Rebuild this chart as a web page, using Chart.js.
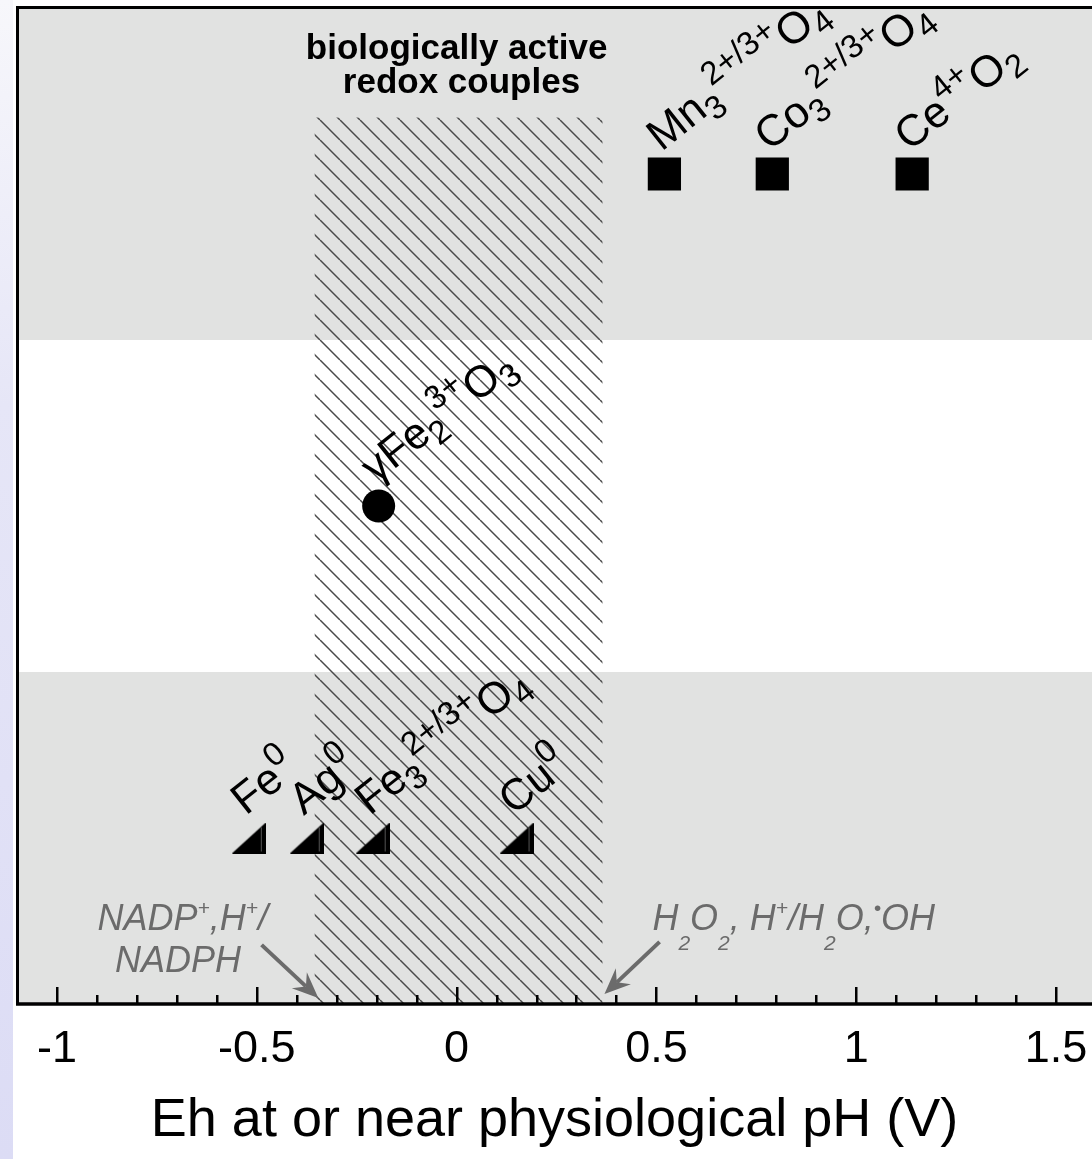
<!DOCTYPE html>
<html>
<head>
<meta charset="utf-8">
<title>Eh at or near physiological pH</title>
<script src="https://cdn.jsdelivr.net/npm/chart.js@4.4.1/dist/chart.umd.min.js"></script>
<style>
	html, body { margin: 0; padding: 0; background: #fff; }
	body { width: 1092px; height: 1159px; position: relative; overflow: hidden; }
	.side-strip {
		position: absolute; left: 0; top: 0; width: 13px; height: 100%;
		background: linear-gradient(to bottom, #f7f7fb 0%, #e6e6f7 35%, #dcdcf5 100%);
	}
	#redoxChart { position: absolute; left: 0; top: 0; }
</style>
</head>
<body>
<div class="side-strip"></div>
<canvas id="redoxChart" width="1092" height="1159"></canvas>
<script>
// ===== DATA =====
const tickValues = [-1, -0.5, 0, 0.5, 1, 1.5];
const rowLevels = [2.5, 1.5, 0.5];          // oxides (top), maghemite (middle), metals (bottom)
const grayBands = [[0, 1], [2, 3]];

const oxideLabels = ['Mn_{3}^{2+/3+}O_{4}', 'Co_{3}^{2+/3+}O_{4}', 'Ce^{4+}O_{2}'];
const oxideEh = [0.52, 0.79, 1.14];

const maghemiteLabels = ['γFe_{2}^{3+}O_{3}'];
const maghemiteEh = [-0.195];

const metalLabels = ['Fe^{0}', 'Ag^{0}', 'Fe_{3}^{2+/3+}O_{4}', 'Cu^{0}'];
const metalEh = [-0.52, -0.375, -0.21, 0.15];

const bioWindow = [-0.355, 0.365];           // NADP+,H+/NADPH ... H2O2,H+/H2O,•OH
const bioWindowTop = 2.67;

// ===== STYLE =====
const FAMILY = '"Liberation Sans", Arial, Helvetica, sans-serif';
const LABEL_ANGLE = -38.5 * Math.PI / 180;
const LABEL_DX = -3;
const LABEL_DY = -22;
const markerFont = { size: 44, small: 33, subDy: 10, supDy: -20, supShift: 1, color: '#000', style: 'normal', weight: 'normal' };
const noteFont = { size: 36, small: 21, subDy: 20, supDy: -15, supShift: 1, color: '#6b6b6b', style: 'italic', weight: 'normal' };
const GRAY = '#6b6b6b';

// ===== RICH TEXT (sub/superscripts) =====
function parseRich(str) {
	const segs = [];
	let buf = '';
	let i = 0;
	while (i < str.length) {
		const c = str[i];
		if ((c === '_' || c === '^') && str[i + 1] === '{') {
			if (buf) { segs.push({ t: buf, k: 'n' }); buf = ''; }
			const end = str.indexOf('}', i);
			segs.push({ t: str.slice(i + 2, end), k: c === '_' ? 'sub' : 'sup' });
			i = end + 1;
		} else {
			buf += c;
			i++;
		}
	}
	if (buf) segs.push({ t: buf, k: 'n' });
	return segs;
}

function fontStr(f, size) {
	return `${f.style} ${f.weight} ${size}px ${FAMILY}`;
}

// walks the segments; draws them if draw is true, returns total width
function layoutRich(ctx, segs, f, draw) {
	let x = 0;
	for (let s = 0; s < segs.length; s++) {
		const seg = segs[s];
		if (seg.k === 'n') {
			ctx.font = fontStr(f, f.size);
			if (draw) ctx.fillText(seg.t, x, 0);
			x += ctx.measureText(seg.t).width;
			continue;
		}
		ctx.font = fontStr(f, f.small);
		if (draw) ctx.fillText(seg.t, x, seg.k === 'sub' ? f.subDy : f.supDy);
		let w = ctx.measureText(seg.t).width;
		const next = segs[s + 1];
		if (seg.k === 'sub' && next && next.k === 'sup') {
			// subscript followed by the charge
			const sx = w * f.supShift;
			if (draw) ctx.fillText(next.t, x + sx, f.supDy);
			w = Math.max(w, sx + ctx.measureText(next.t).width);
			s++;
		}
		x += w;
	}
	return x;
}

function drawRich(ctx, text, x, y, f, angle, align) {
	const segs = parseRich(text);
	ctx.save();
	ctx.translate(x, y);
	if (angle) ctx.rotate(angle);
	ctx.fillStyle = f.color;
	ctx.textAlign = 'left';
	ctx.textBaseline = 'alphabetic';
	if (align === 'center') {
		const w = layoutRich(ctx, segs, f, false);
		ctx.translate(-w / 2, 0);
	}
	layoutRich(ctx, segs, f, true);
	ctx.restore();
}

// ===== MARKERS =====
function makeWedge(w, h) {
	const c = document.createElement('canvas');
	c.width = w;
	c.height = h;
	const g = c.getContext('2d');
	g.fillStyle = '#000';
	g.beginPath();
	g.moveTo(0, h);
	g.lineTo(w, 0);
	g.lineTo(w, h);
	g.closePath();
	g.fill();
	g.strokeStyle = '#555';
	g.lineWidth = 1;
	g.beginPath();
	g.moveTo(w - 4.5, 5);
	g.lineTo(w - 4.5, h - 2);
	g.stroke();
	return c;
}

function makeHatch() {
	const s = 20;
	const c = document.createElement('canvas');
	c.width = s;
	c.height = s;
	const g = c.getContext('2d');
	g.strokeStyle = '#4a4a4a';
	g.lineWidth = 1.5;
	for (let k = -1; k <= 1; k++) {
		g.beginPath();
		g.moveTo(0, k * s);
		g.lineTo(s, s + k * s);
		g.stroke();
	}
	return c;
}

// ===== PLUGINS =====
const backgroundPlugin = {
	id: 'bands',
	beforeDatasetsDraw(chart) {
		const { ctx, chartArea: a, scales: { x, y } } = chart;
		ctx.save();
		ctx.fillStyle = '#e1e2e1';
		grayBands.forEach(b => {
			const top = y.getPixelForValue(b[1]);
			const bottom = y.getPixelForValue(b[0]);
			ctx.fillRect(a.left, top, a.right - a.left, bottom - top);
		});
		const hx0 = x.getPixelForValue(bioWindow[0]);
		const hx1 = x.getPixelForValue(bioWindow[1]);
		const hy0 = y.getPixelForValue(bioWindowTop);
		ctx.fillStyle = ctx.createPattern(makeHatch(), 'repeat');
		ctx.fillRect(hx0, hy0, hx1 - hx0, a.bottom - hy0);
		ctx.restore();
	}
};

function drawArrow(ctx, x0, y0, x1, y1) {
	const ang = Math.atan2(y1 - y0, x1 - x0);
	const len = 26, half = 11, notch = 9;
	ctx.save();
	ctx.strokeStyle = GRAY;
	ctx.fillStyle = GRAY;
	ctx.lineWidth = 4;
	ctx.beginPath();
	ctx.moveTo(x0, y0);
	ctx.lineTo(x1 - Math.cos(ang) * (len - notch), y1 - Math.sin(ang) * (len - notch));
	ctx.stroke();
	ctx.translate(x1, y1);
	ctx.rotate(ang);
	ctx.beginPath();
	ctx.moveTo(0, 0);
	ctx.lineTo(-len, -half);
	ctx.lineTo(-len + notch, 0);
	ctx.lineTo(-len, half);
	ctx.closePath();
	ctx.fill();
	ctx.restore();
}

const annotationPlugin = {
	id: 'annotations',
	afterDatasetsDraw(chart) {
		const { ctx, scales: { x, y } } = chart;

		// point labels
		chart.data.datasets.forEach((ds, di) => {
			const meta = chart.getDatasetMeta(di);
			meta.data.forEach((pt, i) => {
				drawRich(ctx, ds.labels[i], pt.x + LABEL_DX, pt.y + LABEL_DY, markerFont, LABEL_ANGLE);
			});
		});

		// title of the hatched window
		ctx.save();
		ctx.fillStyle = '#000';
		ctx.font = `bold 35px ${FAMILY}`;
		ctx.textAlign = 'center';
		ctx.textBaseline = 'alphabetic';
		ctx.fillText('biologically active', x.getPixelForValue(0), y.getPixelForValue(2.846));
		ctx.fillText(' redox couples', x.getPixelForValue(0), y.getPixelForValue(2.744));
		ctx.restore();

		// redox couple notes
		drawRich(ctx, 'NADP^{+},H^{+}/', x.getPixelForValue(-0.685), y.getPixelForValue(0.223), noteFont, 0, 'center');
		drawRich(ctx, 'NADPH', x.getPixelForValue(-0.697), y.getPixelForValue(0.097), noteFont, 0, 'center');
		drawRich(ctx, 'H_{2}O_{2}, H^{+}/H_{2}O,^{•}OH', x.getPixelForValue(0.49), y.getPixelForValue(0.223), noteFont, 0);

		drawArrow(ctx, x.getPixelForValue(-0.488), y.getPixelForValue(0.178), x.getPixelForValue(-0.346), y.getPixelForValue(0.018));
		drawArrow(ctx, x.getPixelForValue(0.508), y.getPixelForValue(0.187), x.getPixelForValue(0.370), y.getPixelForValue(0.030));
	},
	afterDraw(chart) {
		const { ctx, chartArea: a, scales: { x } } = chart;
		ctx.save();
		ctx.strokeStyle = '#000';
		ctx.lineCap = 'butt';
		ctx.lineWidth = 3;
		ctx.beginPath();
		ctx.moveTo(a.left - 1, a.top - 0.5);
		ctx.lineTo(a.right, a.top - 0.5);
		ctx.moveTo(a.left + 0.5, a.top - 2);
		ctx.lineTo(a.left + 0.5, a.bottom);
		ctx.stroke();
		ctx.lineWidth = 3.5;
		ctx.beginPath();
		ctx.moveTo(a.left - 1, a.bottom);
		ctx.lineTo(a.right, a.bottom);
		ctx.stroke();
		// inward ticks: major every 0.5, minor every 0.1
		ctx.lineWidth = 2.5;
		ctx.beginPath();
		for (let k = -10; k <= 15; k++) {
			const px = Math.round(x.getPixelForValue(k / 10)) + 0.25;
			const len = k % 5 === 0 ? 17 : 9;
			ctx.moveTo(px, a.bottom);
			ctx.lineTo(px, a.bottom - len);
		}
		ctx.stroke();
		ctx.restore();
	}
};

// ===== CHART =====
const ctx = document.getElementById('redoxChart').getContext('2d');

new Chart(ctx, {
	type: 'scatter',
	data: {
		datasets: [
			{
				label: 'oxides',
				labels: oxideLabels,
				data: oxideEh.map(v => ({ x: v, y: rowLevels[0] })),
				pointStyle: 'rect',
				pointRadius: 23.5,
				backgroundColor: '#000',
				borderColor: '#000',
				borderWidth: 0
			},
			{
				label: 'maghemite',
				labels: maghemiteLabels,
				data: maghemiteEh.map(v => ({ x: v, y: rowLevels[1] })),
				pointStyle: 'circle',
				pointRadius: 16.5,
				backgroundColor: '#000',
				borderColor: '#000',
				borderWidth: 0
			},
			{
				label: 'metals',
				labels: metalLabels,
				data: metalEh.map(v => ({ x: v, y: rowLevels[2] })),
				pointStyle: makeWedge(34, 31),
				pointRadius: 16
			}
		]
	},
	options: {
		responsive: false,
		animation: false,
		devicePixelRatio: 1,
		layout: {
			autoPadding: false,
			padding: { left: 17, top: 8, right: 0, bottom: 0 }
		},
		plugins: {
			legend: { display: false },
			tooltip: { enabled: false }
		},
		scales: {
			x: {
				type: 'linear',
				min: -1.1,
				max: 1.59,
				afterFit: function(scale) {
					// the plot runs right up to the page edge, as in the original
					scale.height = 155;
					scale.paddingLeft = 0;
					scale.paddingRight = 0;
				},
				afterBuildTicks: function(scale) {
					scale.ticks = tickValues.map(v => ({ value: v }));
				},
				grid: { display: false, drawTicks: false },
				border: { display: false },
				ticks: {
					padding: 19,
					color: '#000',
					maxRotation: 0,
					autoSkip: false,
					font: { size: 45, family: FAMILY },
					callback: function(value) {
						return String(value);
					}
				},
				title: {
					display: true,
					text: 'Eh at or near physiological pH (V)',
					color: '#000',
					font: { size: 54, family: FAMILY },
					padding: { top: 0, bottom: 5 }
				}
			},
			y: {
				type: 'linear',
				display: false,
				min: 0,
				max: 3
			}
		}
	},
	plugins: [backgroundPlugin, annotationPlugin]
});
</script>
</body>
</html>
